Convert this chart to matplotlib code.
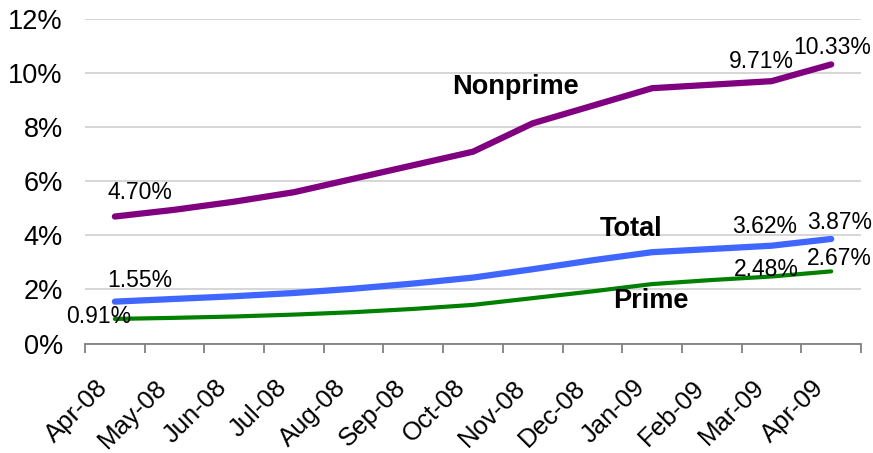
import matplotlib
matplotlib.use("Agg")
import matplotlib.pyplot as plt
import matplotlib.transforms as mtransforms
from matplotlib.ticker import FuncFormatter, MultipleLocator, FixedLocator

plt.rcParams["font.family"] = ["Liberation Sans", "DejaVu Sans"]

months = ["Apr-08", "May-08", "Jun-08", "Jul-08", "Aug-08", "Sep-08", "Oct-08",
          "Nov-08", "Dec-08", "Jan-09", "Feb-09", "Mar-09", "Apr-09"]
nonprime = [4.70, 4.95, 5.25, 5.60, 6.10, 6.60, 7.10, 8.15, 8.80, 9.45, 9.58, 9.71, 10.33]
total = [1.55, 1.65, 1.75, 1.87, 2.03, 2.22, 2.44, 2.75, 3.08, 3.38, 3.50, 3.62, 3.87]
prime = [0.91, 0.95, 1.00, 1.07, 1.16, 1.28, 1.43, 1.68, 1.93, 2.20, 2.35, 2.48, 2.67]

# (series, month index, offset in points) for the value labels
value_labels = [
    (nonprime, 0, (18, 17)), (nonprime, 11, (-7, 14)), (nonprime, 12, (1, 12)),
    (total, 0, (18, 15)), (total, 11, (-5, 14)), (total, 12, (6, 12)),
    (prime, 0, (-12, 2)), (prime, 11, (-4, 5)), (prime, 12, (6, 9)),
]

x = list(range(len(months)))

fig = plt.figure(figsize=(8.73, 4.53), dpi=100)
ax = fig.add_axes([0.0974, 0.2417, 0.8889, 0.7157])

ax.plot(x, nonprime, color="#800080", linewidth=4.5, solid_capstyle="round")
ax.plot(x, total, color="#3F66FF", linewidth=4.5, solid_capstyle="round")
ax.plot(x, prime, color="#008000", linewidth=3.0, solid_capstyle="round")

for series, i, (dx, dy) in value_labels:
    ax.annotate(f"{series[i]:.2f}%", (x[i], series[i]), xytext=(dx, dy),
                textcoords="offset points", ha="center", va="center", fontsize=16.5)

ax.text(6.71, 9.5, "Nonprime", fontsize=19.5, fontweight="bold", ha="center", va="center")
ax.text(8.64, 4.24, "Total", fontsize=19.5, fontweight="bold", ha="center", va="center")
ax.text(8.98, 1.57, "Prime", fontsize=19.5, fontweight="bold", ha="center", va="center")

ax.set_xlim(-0.5, len(months) - 0.5)
ax.set_ylim(0, 12)
ax.yaxis.set_major_locator(MultipleLocator(2))
ax.yaxis.set_major_formatter(FuncFormatter(lambda v, p: f"{v:.0f}%"))
ax.grid(axis="y", color="#d0d0d0", linewidth=1.2)
ax.set_axisbelow(True)

for side in ["left", "right", "top"]:
    ax.spines[side].set_visible(False)
ax.spines["bottom"].set_color("#808080")
ax.spines["bottom"].set_linewidth(1.3)

ax.tick_params(axis="y", length=0, pad=16, labelsize=19.5)

# labels at category centres, tick marks on the boundaries
ax.set_xticks(x)
ax.set_xticklabels(months, rotation=45, ha="right", va="center", rotation_mode="anchor")
ax.tick_params(axis="x", which="major", length=0, pad=29, labelsize=18.5)
ax.xaxis.set_minor_locator(FixedLocator([i - 0.5 for i in range(len(months) + 1)]))
ax.tick_params(axis="x", which="minor", length=6.5, width=1.3, color="#808080", direction="out")
shift = mtransforms.ScaledTranslation(-8 / 72, 0, fig.dpi_scale_trans)
for lbl in ax.get_xticklabels():
    lbl.set_transform(lbl.get_transform() + shift)

fig.savefig("out.png", dpi=100)
